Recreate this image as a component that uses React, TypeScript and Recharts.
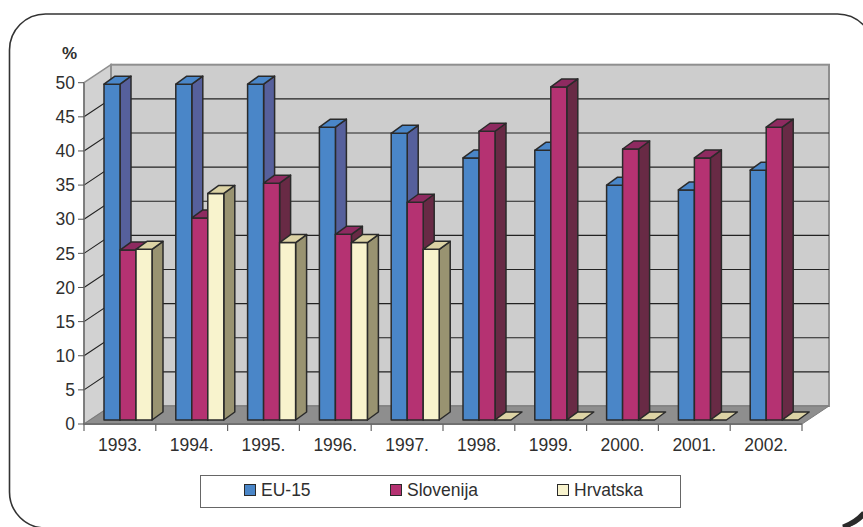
import { BarChart, Bar, XAxis, YAxis, CartesianGrid, Legend } from 'recharts';

const years = ['1993.', '1994.', '1995.', '1996.', '1997.', '1998.', '1999.', '2000.', '2001.', '2002.'];
const eu15 = [49.2, 49.2, 49.2, 42.9, 42, 38.4, 39.5, 34.4, 33.7, 36.6];
const slovenija = [24.9, 29.6, 34.7, 27.2, 31.9, 42.3, 48.8, 39.7, 38.4, 42.9];
const hrvatska = [25, 33.2, 26, 26, 25, 0, 0, 0, 0, 0];
const yTicks = [0, 5, 10, 15, 20, 25, 30, 35, 40, 45, 50];

const data = years.map((year, i) => ({ year, eu15: eu15[i], slovenija: slovenija[i], hrvatska: hrvatska[i] }));

const WIDTH = 863;
const HEIGHT = 527;
const LEFT = 84;
const RIGHT = 802;
const TOP = 82.7;
const BOTTOM = 424;
const DX = 27;
const DY = -18;
const FONT = '"Liberation Sans", Arial, sans-serif';
const INK = '#2f2f2f';

const Bar3D = ({ x, y, width, height, front, top, side }: any) => {
  const dx = 11;
  const dy = -8;
  const l = x + 8;
  const t = y - 4;
  const r = l + width;
  const b = t + height;
  return (
    <g stroke="#2a2a2a" strokeWidth={1.5} strokeLinejoin="round">
      {height > 0 && <polygon points={`${r},${t} ${r + dx},${t + dy} ${r + dx},${b + dy} ${r},${b}`} fill={side} />}
      {height > 0 && <rect x={l} y={t} width={width} height={height} fill={front} />}
      <polygon points={`${l},${t} ${l + dx},${t + dy} ${r + dx},${t + dy} ${r},${t}`} fill={top} />
    </g>
  );
};

const XTick = ({ x, payload, index }: any) => {
  const half = (RIGHT - LEFT) / years.length / 2;
  return (
    <g>
      <line x1={x - half} x2={x - half} y1={BOTTOM} y2={BOTTOM + 7} stroke="#666" strokeWidth={1.2} />
      {index === years.length - 1 && (
        <line x1={x + half} x2={x + half} y1={BOTTOM} y2={BOTTOM + 7} stroke="#666" strokeWidth={1.2} />
      )}
      <text x={x} y={451} textAnchor="middle" fontSize={17.5} fontFamily={FONT} fill={INK}>
        {payload.value}
      </text>
    </g>
  );
};

// the grid layer sits under everything else, so the 3D box is drawn from its first line
const Walls = () => (
  <g>
    <polygon
      points={`${LEFT},${TOP} ${LEFT + DX},${TOP + DY} ${LEFT + DX},${BOTTOM + DY} ${LEFT},${BOTTOM}`}
      fill="#d2d2d2"
      stroke="#8f8f8f"
      strokeWidth={1.5}
    />
    <rect x={LEFT + DX} y={TOP + DY} width={RIGHT - LEFT} height={BOTTOM - TOP} fill="#cdcdcd" stroke="#8f8f8f" strokeWidth={2} />
    <polygon
      points={`${LEFT},${BOTTOM} ${RIGHT},${BOTTOM} ${RIGHT + DX},${BOTTOM + DY} ${LEFT + DX},${BOTTOM + DY}`}
      fill="#8e8e8e"
      stroke="#7a7a7a"
      strokeWidth={1}
    />
  </g>
);

// horizontal grid runs along the left wall, then across the back wall
const gridLine = ({ x1, x2, y1, index }: any) => {
  const edge = Math.abs(y1 - TOP) < 1 || Math.abs(y1 - BOTTOM) < 1;
  return (
    <g key={y1}>
      {index === 0 && <Walls />}
      {!edge && (
        <polyline
          points={`${x1},${y1} ${x1 + DX},${y1 + DY} ${x2 + DX},${y1 + DY}`}
          fill="none"
          stroke="#222"
          strokeWidth={1.1}
        />
      )}
    </g>
  );
};

const LegendBox = ({ payload }: any) => {
  const starts = [43, 189, 356];
  return (
    <div style={{ position: 'relative', width: 479, height: 31, border: '1.5px solid #666', background: '#fff', fontFamily: FONT, fontSize: 17.5, color: INK }}>
      {(payload || []).map((item: any, i: number) => (
        <div key={item.value} style={{ position: 'absolute', left: starts[i], top: 3, display: 'flex', alignItems: 'center', lineHeight: '22px' }}>
          <span style={{ display: 'inline-block', width: 10, height: 10, background: item.color, border: '1.5px solid #2a2a2a', marginRight: 5 }} />
          {item.value}
        </div>
      ))}
    </div>
  );
};

export default function App() {
  return (
    <div style={{ position: 'absolute', left: 0, top: 0, width: WIDTH, height: HEIGHT, overflow: 'hidden', background: '#fff' }}>
      <BarChart
        width={WIDTH}
        height={HEIGHT}
        data={data}
        barSize={16}
        barGap={0}
        margin={{ top: TOP, right: WIDTH - RIGHT, bottom: 63, left: 24 }}
      >
        {/* rounded page frame */}
        <rect x={9.5} y={14} width={864} height={514} rx={36} ry={36} fill="none" stroke="#333" strokeWidth={1.6} />
        <path d="M 843 527 Q 855 523 864 513" fill="none" stroke="#2a2a2a" strokeWidth={5} />

        <CartesianGrid vertical={false} horizontal={gridLine} />
        <XAxis
          dataKey="year"
          height={40}
          tickLine={false}
          axisLine={{ stroke: '#707070', strokeWidth: 2 }}
          tick={<XTick />}
          interval={0}
        />
        <YAxis
          width={60}
          domain={[0, 50]}
          ticks={yTicks}
          interval={0}
          tickSize={6}
          tickMargin={3}
          axisLine={{ stroke: '#707070', strokeWidth: 1.5 }}
          tickLine={{ stroke: '#555' }}
          tick={{ fill: INK, fontSize: 17.5, fontFamily: FONT }}
        />
        <Legend
          layout="horizontal"
          align="center"
          verticalAlign="middle"
          itemSorter={null}
          content={<LegendBox />}
          wrapperStyle={{ left: 200, top: 475, width: 482, height: 34 }}
        />
        <Bar
          dataKey="eu15"
          name="EU-15"
          fill="#4a86c8"
          isAnimationActive={false}
          shape={(p: any) => <Bar3D {...p} front="#4a86c8" top="#4a86c8" side="#56609c" />}
        />
        <Bar
          dataKey="slovenija"
          name="Slovenija"
          fill="#b53272"
          isAnimationActive={false}
          shape={(p: any) => <Bar3D {...p} front="#b53272" top="#8e2a60" side="#682a45" />}
        />
        <Bar
          dataKey="hrvatska"
          name="Hrvatska"
          fill="#f8f3cd"
          isAnimationActive={false}
          shape={(p: any) => <Bar3D {...p} front="#f8f3cd" top="#dcd3a5" side="#999371" />}
        />
        <text x={62} y={59} fontSize={17} fontWeight="bold" fontFamily={FONT} fill={INK}>
          %
        </text>
      </BarChart>
    </div>
  );
}
